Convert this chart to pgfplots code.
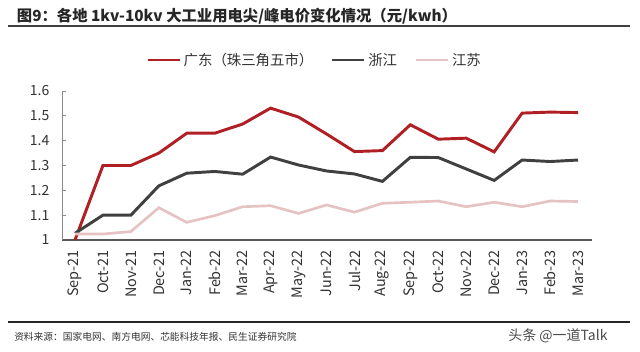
\documentclass[border=0pt]{standalone}
\usepackage{fontspec}
\setmainfont{Noto Sans CJK SC}
\usepackage{pgfplots}
\pgfplotsset{compat=1.18}
\definecolor{gdred}{HTML}{B01F24}
\definecolor{zjgray}{HTML}{404040}
\definecolor{jspink}{HTML}{E5C3C3}
\begin{document}
\begin{tikzpicture}
\path[use as bounding box, fill=white] (0pt,0pt) rectangle (480pt,-264pt);
\node[anchor=west, inner sep=0pt, font=\fontsize{11.5}{13}\selectfont\bfseries, text=black!85] at (12.5pt,-12.3pt) {图9：各地 1kv-10kv 大工业用电尖/峰电价变化情况（元/kwh）};
\draw[black!75, line width=1pt] (6pt,-19.5pt) -- (472.5pt,-19.5pt);
\draw[black!85, line width=1pt] (6pt,-241.5pt) -- (472.5pt,-241.5pt);
\node[anchor=west, inner sep=0pt, font=\fontsize{7.3}{8}\selectfont, text=black!80] at (10.5pt,-252.5pt) {资料来源：国家电网、南方电网、芯能科技年报、民生证券研究院};
\node[anchor=west, inner sep=0pt, font=\fontsize{10.5}{11}\selectfont, text=black!70] at (381pt,-252pt) {头条 @一道Talk};
\begin{axis}[
  at={(46.5pt,-180pt)}, anchor=south west,
  scale only axis, width=397.5pt, height=111.75pt,
  xmin=-0.465, xmax=18.5, ymin=1, ymax=1.6,
  axis x line=bottom, axis y line=left,
  axis line style={-},
  x axis line style={black!65, line width=0.8pt},
  y axis line style={black!45, line width=0.6pt},
  xtick={0,...,18},
  xticklabels={Sep-21,Oct-21,Nov-21,Dec-21,Jan-22,Feb-22,Mar-22,Apr-22,May-22,Jun-22,Jul-22,Aug-22,Sep-22,Oct-22,Nov-22,Dec-22,Jan-23,Feb-23,Mar-23},
  x tick label style={rotate=90, anchor=east, font=\fontsize{10.8}{12}\selectfont, text=black!80},
  xticklabel shift=4pt,
  xtick style={draw=none},
  ytick={1,1.1,1.2,1.3,1.4,1.5,1.6},
  yticklabels={1,1.1,1.2,1.3,1.4,1.5,1.6},
  y tick label style={font=\fontsize{10.5}{11}\selectfont, text=black!80},
  ytick style={black!45, line width=0.6pt},
  tick align=inside, major tick length=3pt,
  yticklabel style={xshift=-6pt},
  legend columns=3,
  legend style={draw=none, fill=none, at={(0.477,1.208)}, anchor=center,
    font=\fontsize{10.8}{12}\selectfont, text=black!80,
    /tikz/every even column/.append style={column sep=11pt}},
  legend image code/.code={\draw[#1, line width=2.2pt] (0pt,0pt) -- (24pt,0pt);},
  clip=false,
]
\addplot[gdred, line width=2.2pt, mark=none] coordinates {
(0,1.0) (1,1.30) (2,1.30) (3,1.35) (4,1.43) (5,1.43) (6,1.467) (7,1.531) (8,1.495) (9,1.427)
(10,1.356) (11,1.36) (12,1.464) (13,1.406) (14,1.41) (15,1.355) (16,1.511) (17,1.515) (18,1.513)};
\addlegendentry{广东（珠三角五市）}
\addplot[zjgray, line width=2.2pt, mark=none] coordinates {
(0,1.027) (1,1.10) (2,1.10) (3,1.218) (4,1.269) (5,1.276) (6,1.265) (7,1.334) (8,1.302) (9,1.278)
(10,1.266) (11,1.236) (12,1.333) (13,1.332) (14,1.286) (15,1.24) (16,1.322) (17,1.316) (18,1.322)};
\addlegendentry{浙江}
\addplot[jspink, line width=2pt, mark=none] coordinates {
(0,1.024) (1,1.024) (2,1.034) (3,1.13) (4,1.071) (5,1.098) (6,1.134) (7,1.138) (8,1.107) (9,1.141)
(10,1.112) (11,1.148) (12,1.152) (13,1.157) (14,1.134) (15,1.152) (16,1.134) (17,1.157) (18,1.155)};
\addlegendentry{江苏}
\end{axis}
\end{tikzpicture}
\end{document}
